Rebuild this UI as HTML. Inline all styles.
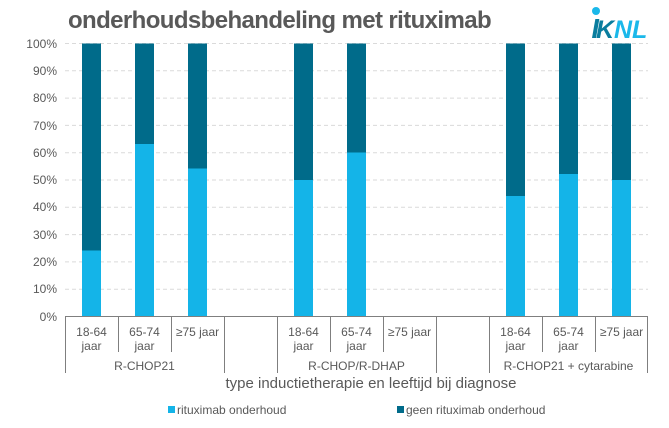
<!DOCTYPE html>
<html><head><style>
body{margin:0;background:#fff;}
svg text{font-family:"Liberation Sans",Arial,sans-serif;fill:#595959;}
</style></head><body>
<svg width="669" height="423" viewBox="0 0 669 423" xmlns="http://www.w3.org/2000/svg">
<text x="68" y="28" font-size="24" font-weight="bold" style="letter-spacing:-0.6px">onderhoudsbehandeling met rituximab</text>
<g font-weight="bold" font-style="italic" font-size="25">
<text x="596" y="38" style="fill:#0a7d9e">K</text>
<text x="614" y="38" style="fill:#1ab8ea">NL</text>
</g>
<rect x="592" y="19" width="4" height="19" fill="#0a7d9e" transform="skewX(-10)" transform-origin="594 38"/>
<circle cx="596" cy="11" r="4" fill="#1ab8ea"/>
<g stroke="#dadada" stroke-dasharray="4,3" stroke-width="1">
<line x1="65" x2="648" y1="43.5" y2="43.5"/><line x1="65" x2="648" y1="70.8" y2="70.8"/>
<line x1="65" x2="648" y1="98.1" y2="98.1"/><line x1="65" x2="648" y1="125.4" y2="125.4"/>
<line x1="65" x2="648" y1="152.7" y2="152.7"/><line x1="65" x2="648" y1="180" y2="180"/>
<line x1="65" x2="648" y1="207.3" y2="207.3"/><line x1="65" x2="648" y1="234.6" y2="234.6"/>
<line x1="65" x2="648" y1="261.9" y2="261.9"/><line x1="65" x2="648" y1="289.2" y2="289.2"/>
</g>
<g font-size="12" text-anchor="end">
<text x="57" y="48">100%</text><text x="57" y="75">90%</text><text x="57" y="102">80%</text>
<text x="57" y="130">70%</text><text x="57" y="157">60%</text><text x="57" y="184">50%</text>
<text x="57" y="211">40%</text><text x="57" y="239">30%</text><text x="57" y="266">20%</text>
<text x="57" y="293">10%</text><text x="57" y="321">0%</text>
</g>
<g>
<rect x="82" y="43.5" width="19" height="272.5" fill="#006b8a"/><rect x="82" y="250.5" width="19" height="65.5" fill="#14b4e8"/>
<rect x="135" y="43.5" width="19" height="272.5" fill="#006b8a"/><rect x="135" y="144" width="19" height="172" fill="#14b4e8"/>
<rect x="188" y="43.5" width="19" height="272.5" fill="#006b8a"/><rect x="188" y="168.5" width="19" height="147.5" fill="#14b4e8"/>
<rect x="294" y="43.5" width="19" height="272.5" fill="#006b8a"/><rect x="294" y="180" width="19" height="136" fill="#14b4e8"/>
<rect x="347" y="43.5" width="19" height="272.5" fill="#006b8a"/><rect x="347" y="152.5" width="19" height="163.5" fill="#14b4e8"/>
<rect x="506" y="43.5" width="19" height="272.5" fill="#006b8a"/><rect x="506" y="196" width="19" height="120" fill="#14b4e8"/>
<rect x="559" y="43.5" width="19" height="272.5" fill="#006b8a"/><rect x="559" y="174" width="19" height="142" fill="#14b4e8"/>
<rect x="612" y="43.5" width="19" height="272.5" fill="#006b8a"/><rect x="612" y="180" width="19" height="136" fill="#14b4e8"/>
</g>
<g stroke="#7f7f7f" stroke-width="1">
<line x1="65" x2="648" y1="316.5" y2="316.5"/>
<line x1="65.5" x2="65.5" y1="316" y2="373"/>
<line x1="118.5" x2="118.5" y1="316" y2="352"/>
<line x1="171.5" x2="171.5" y1="316" y2="352"/>
<line x1="224.5" x2="224.5" y1="316" y2="373"/>
<line x1="277.5" x2="277.5" y1="316" y2="373"/>
<line x1="330.5" x2="330.5" y1="316" y2="352"/>
<line x1="383.5" x2="383.5" y1="316" y2="352"/>
<line x1="436.5" x2="436.5" y1="316" y2="373"/>
<line x1="489.5" x2="489.5" y1="316" y2="373"/>
<line x1="542.5" x2="542.5" y1="316" y2="352"/>
<line x1="595.5" x2="595.5" y1="316" y2="352"/>
<line x1="647.5" x2="647.5" y1="316" y2="373"/>
</g>
<g font-size="12" text-anchor="middle">
<text x="91.5" y="336">18-64</text><text x="91.5" y="350">jaar</text>
<text x="144.5" y="336">65-74</text><text x="144.5" y="350">jaar</text>
<text x="197.5" y="336">≥75 jaar</text>
<text x="303.5" y="336">18-64</text><text x="303.5" y="350">jaar</text>
<text x="356.5" y="336">65-74</text><text x="356.5" y="350">jaar</text>
<text x="409.5" y="336">≥75 jaar</text>
<text x="515.5" y="336">18-64</text><text x="515.5" y="350">jaar</text>
<text x="568.5" y="336">65-74</text><text x="568.5" y="350">jaar</text>
<text x="621.5" y="336">≥75 jaar</text>
<text x="144.5" y="370">R-CHOP21</text>
<text x="356.5" y="370">R-CHOP/R-DHAP</text>
<text x="568.5" y="370">R-CHOP21 + cytarabine</text>
<text x="371" y="388" font-size="15">type inductietherapie en leeftijd bij diagnose</text>
</g>
<rect x="168" y="406" width="7" height="7" fill="#14b4e8"/>
<text x="177" y="414" font-size="12">rituximab onderhoud</text>
<rect x="397" y="406" width="7" height="7" fill="#006b8a"/>
<text x="406" y="414" font-size="12">geen rituximab onderhoud</text>
</svg>
</body></html>
